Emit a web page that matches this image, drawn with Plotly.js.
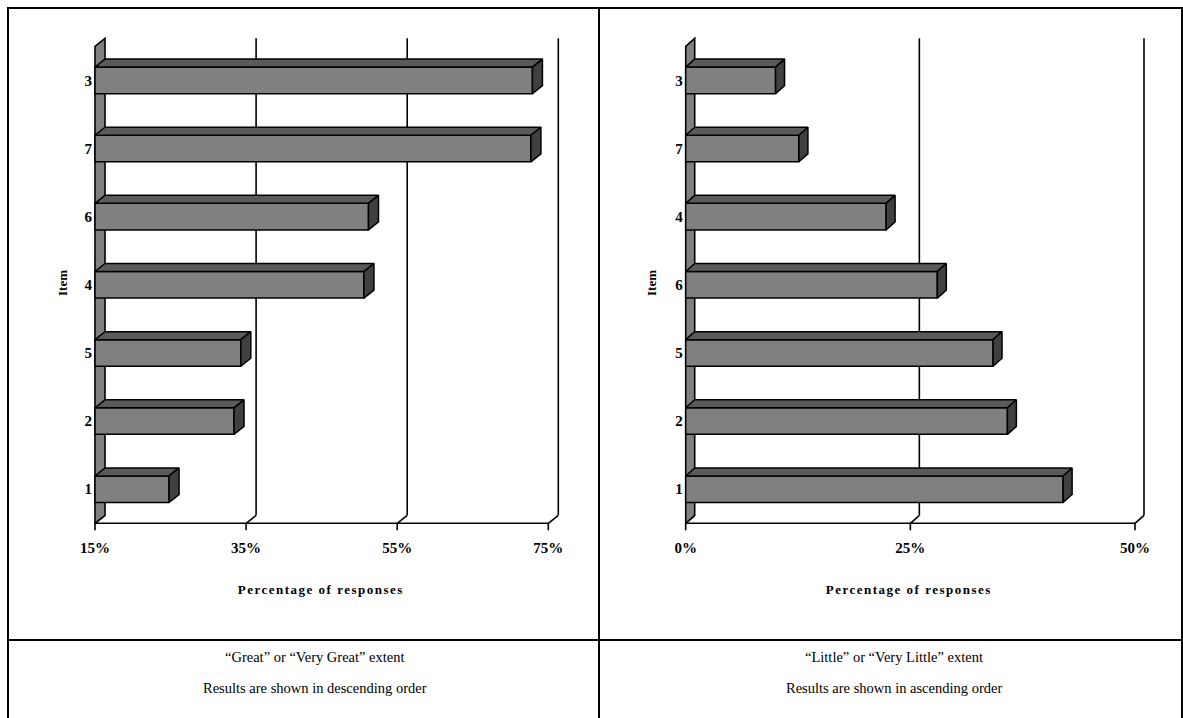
<!DOCTYPE html>
<html>
<head>
<meta charset="utf-8">
<script src="https://cdn.plot.ly/plotly-3.0.1.min.js"></script>
<style>
  html, body { margin: 0; padding: 0; background: #fff; }
  #chart { width: 1183px; height: 718px; }
</style>
</head>
<body>
<div id="chart"></div>
<script>
// Survey items ordered top to bottom, with the share of responses for each.
const greatItems = ['3', '7', '6', '4', '5', '2', '1'];
const greatValues = [72.9, 72.7, 51.2, 50.6, 34.3, 33.4, 24.8];
const greatTicks = [15, 35, 55, 75];
const greatTickText = ['15%', '35%', '55%', '75%'];

const littleItems = ['3', '7', '4', '6', '5', '2', '1'];
const littleValues = [10.0, 12.6, 22.3, 28.0, 34.2, 35.8, 42.0];
const littleTicks = [0, 25, 50];
const littleTickText = ['0%', '25%', '50%'];

const captionsLeft = ['\u201cGreat\u201d or \u201cVery Great\u201d extent', 'Results are shown in descending order'];
const captionsRight = ['\u201cLittle\u201d or \u201cVery Little\u201d extent', 'Results are shown in ascending order'];

const W = 1183, H = 718;
const SERIF = '"Liberation Serif", "Times New Roman", serif';
const FRONT = '#808080', TOP = '#5a5a5a', SIDE = '#404040';

// Vertical frame shared by both panels (pixels of the front plane).
const FRONT_TOP_PX = 46.3, BASE_PX = 523.3, N = 7;
const CAT_PX = (BASE_PX - FRONT_TOP_PX) / N;
const DEPTH_Y_PX = 8, TICK_PX = 7, BAR_W = 0.39;

function panel(k, items, values, ticks, tickText, cfg) {
  const sx = (cfg.x1px - cfg.x0px) / (cfg.v1 - cfg.v0);
  const dxv = cfg.depthPx / sx;           // depth in value units
  const dyi = DEPTH_Y_PX / CAT_PX;        // depth in category units
  const base = cfg.v0, top = cfg.v1;

  const xlo = base - 2 / sx, xhi = top + (cfg.depthPx + 3) / sx;
  const ytop = -0.5 - (DEPTH_Y_PX + 3) / CAT_PX;
  const ybot = N - 0.5 + (TICK_PX + 2) / CAT_PX;
  const pxOfX = v => cfg.x0px + (v - base) * sx;
  const pxOfY = i => FRONT_TOP_PX + (i + 0.5) * CAT_PX;

  const idx = items.map((_, i) => i);
  const xa = 'x' + (k === 1 ? '' : k), ya = 'y' + (k === 1 ? '' : k);

  // Front faces of the bars.
  const front = {
    type: 'bar', orientation: 'h', xaxis: xa, yaxis: ya,
    y: idx, x: values.map(v => v - base), base: values.map(() => base),
    width: BAR_W,
    marker: { color: FRONT, line: { color: '#000', width: 1.5 } },
    hoverinfo: 'skip', showlegend: false
  };
  // Top and end faces giving the bars their depth.
  const tx = [], ty = [], sxs = [], sys = [];
  values.forEach((v, i) => {
    const y0 = i - BAR_W / 2, y1 = i + BAR_W / 2;
    tx.push(base, base + dxv, v + dxv, v, base, null);
    ty.push(y0, y0 - dyi, y0 - dyi, y0, y0, null);
    sxs.push(v, v + dxv, v + dxv, v, v, null);
    sys.push(y0, y0 - dyi, y1 - dyi, y1, y0, null);
  });
  const topFaces = {
    type: 'scatter', mode: 'lines', xaxis: xa, yaxis: ya, x: tx, y: ty,
    fill: 'toself', fillcolor: TOP, line: { color: '#000', width: 1.5 },
    hoverinfo: 'skip', showlegend: false
  };
  const sideFaces = {
    type: 'scatter', mode: 'lines', xaxis: xa, yaxis: ya, x: sxs, y: sys,
    fill: 'toself', fillcolor: SIDE, line: { color: '#000', width: 1.5 },
    hoverinfo: 'skip', showlegend: false
  };

  const shapes = [];
  const yb = N - 0.5, yt = -0.5;
  const ln = { color: '#000', width: 1.6 };
  // Back-wall grid lines.
  ticks.forEach(t => {
    if (t === base) return;
    shapes.push({ type: 'line', xref: xa, yref: ya, layer: 'below',
      x0: t + dxv, x1: t + dxv, y0: yb - dyi, y1: yt - dyi, line: ln });
  });
  // Floor edge, its depth strokes and the tick marks.
  shapes.push({ type: 'line', xref: xa, yref: ya, layer: 'below',
    x0: base, x1: top, y0: yb, y1: yb, line: ln });
  ticks.forEach(t => {
    shapes.push({ type: 'line', xref: xa, yref: ya, layer: 'below',
      x0: t, x1: t + dxv, y0: yb, y1: yb - dyi, line: ln });
    shapes.push({ type: 'line', xref: xa, yref: ya, layer: 'below',
      x0: t, x1: t, y0: yb, y1: yb + TICK_PX / CAT_PX, line: ln });
  });
  // Side wall.
  shapes.push({ type: 'path', xref: xa, yref: ya, layer: 'below',
    path: `M${base},${yb} L${base + dxv},${yb - dyi} L${base + dxv},${yt - dyi} L${base},${yt} Z`,
    fillcolor: FRONT, line: ln });

  const xaxis = {
    domain: [pxOfX(xlo) / W, pxOfX(xhi) / W], range: [xlo, xhi],
    anchor: ya, showgrid: false, zeroline: false, showline: false, ticks: '',
    tickmode: 'array', tickvals: ticks, ticktext: tickText,
    ticklabelstandoff: 5,
    tickfont: { family: SERIF, size: 15, color: '#000', weight: 'bold' },
    fixedrange: true
  };
  const yaxis = {
    domain: [1 - pxOfY(ybot) / H, 1 - pxOfY(ytop) / H], range: [ybot, ytop],
    anchor: xa, showgrid: false, zeroline: false, showline: false, ticks: '',
    tickmode: 'array', tickvals: idx, ticktext: items,
    ticklabelstandoff: 0,
    tickfont: { family: SERIF, size: 15, color: '#000', weight: 'bold' },
    fixedrange: true
  };
  return { traces: [front, topFaces, sideFaces], shapes, xaxis, yaxis };
}

const left = panel(1, greatItems, greatValues, greatTicks, greatTickText,
  { x0px: 95, v0: 15, x1px: 548.3, v1: 75, depthPx: 10 });
const right = panel(2, littleItems, littleValues, littleTicks, littleTickText,
  { x0px: 685.7, v0: 0, x1px: 1135, v1: 50, depthPx: 9 });

// Table frame around the two panels and their captions.
const frame = { color: '#000', width: 2 };
const px = v => v / W, py = v => 1 - v / H;
const tableShapes = [
  { type: 'line', xref: 'paper', yref: 'paper', x0: px(8), x1: px(1182), y0: py(8), y1: py(8), line: frame },
  { type: 'line', xref: 'paper', yref: 'paper', x0: px(8), x1: px(1182), y0: py(640), y1: py(640), line: frame },
  { type: 'line', xref: 'paper', yref: 'paper', x0: px(8), x1: px(8), y0: py(7), y1: py(718), line: frame },
  { type: 'line', xref: 'paper', yref: 'paper', x0: px(599), x1: px(599), y0: py(7), y1: py(718), line: frame },
  { type: 'line', xref: 'paper', yref: 'paper', x0: px(1182), x1: px(1182), y0: py(7), y1: py(718), line: frame }
];

function note(text, xPx, yPx, opts) {
  return Object.assign({
    text, xref: 'paper', yref: 'paper', x: px(xPx), y: py(yPx),
    xanchor: 'center', yanchor: 'middle', showarrow: false,
    font: { family: SERIF, size: 13, color: '#000', weight: 'bold' }
  }, opts || {});
}
const AXIS_TITLE = 'Percentage of responses';
const capFont = { family: SERIF, size: 14.5, color: '#000' };
const itemFont = { family: SERIF, size: 13, color: '#000', weight: 'bold' };
const annotations = [
  note(AXIS_TITLE, 320.7, 589),
  note(AXIS_TITLE, 908.7, 589),
  note('Item', 62, 283, { textangle: -90, font: itemFont }),
  note('Item', 651, 283, { textangle: -90, font: itemFont }),
  note(captionsLeft[0], 315, 657, { font: capFont }),
  note(captionsLeft[1], 315, 688, { font: capFont }),
  note(captionsRight[0], 894, 657, { font: capFont }),
  note(captionsRight[1], 894, 688, { font: capFont })
];

const layout = {
  width: W, height: H,
  margin: { l: 0, r: 0, t: 0, b: 0 },
  paper_bgcolor: '#fff', plot_bgcolor: 'rgba(0,0,0,0)',
  showlegend: false, barmode: 'overlay',
  xaxis: left.xaxis, yaxis: left.yaxis,
  xaxis2: right.xaxis, yaxis2: right.yaxis,
  shapes: left.shapes.concat(right.shapes, tableShapes),
  annotations
};

Plotly.newPlot('chart', left.traces.concat(right.traces), layout,
  { displayModeBar: false, staticPlot: true }).then(gd => {
  // The axis titles are set with wide letter spacing.
  gd.querySelectorAll('.annotation-text').forEach(t => {
    if (t.textContent === AXIS_TITLE) t.style.letterSpacing = '1.5px';
  });
});
</script>
</body>
</html>
